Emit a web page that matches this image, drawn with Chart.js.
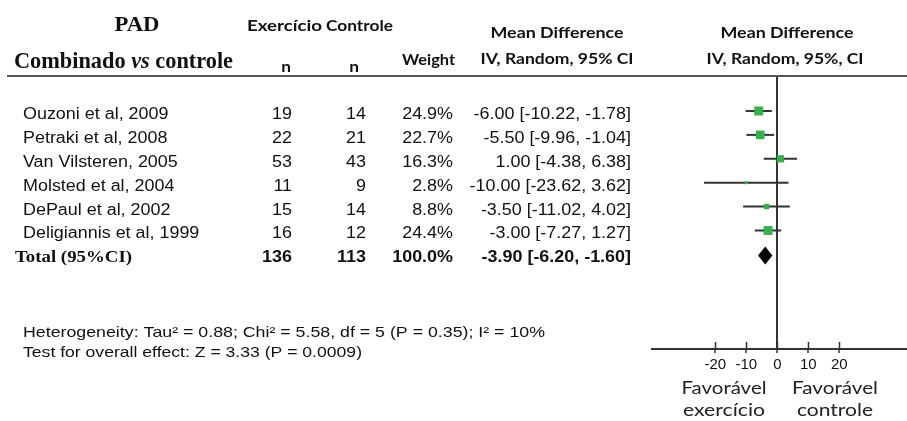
<!DOCTYPE html>
<html>
<head>
<meta charset="utf-8">
<script src="https://cdn.jsdelivr.net/npm/chart.js@4"></script>
<style>
  html, body { margin: 0; padding: 0; background: #fff; }
  canvas { display: block; }
</style>
</head>
<body>
<canvas id="forest" width="907" height="421"></canvas>
<script>
// Studies: PAD, combined training vs control
const studies = [
  'Ouzoni et al, 2009',
  'Petraki et al, 2008',
  'Van Vilsteren, 2005',
  'Molsted et al, 2004',
  'DePaul et al, 2002',
  'Deligiannis et al, 1999'
];
const nExercicio = [19, 22, 53, 11, 15, 16];
const nControle = [14, 21, 43, 9, 14, 12];
const weights = [24.9, 22.7, 16.3, 2.8, 8.8, 24.4];
const meanDiff = [-6.00, -5.50, 1.00, -10.00, -3.50, -3.00];
const ciLow = [-10.22, -9.96, -4.38, -23.62, -11.02, -7.27];
const ciHigh = [-1.78, -1.04, 6.38, 3.62, 4.02, 1.27];

// Pooled estimate
const totalLabel = 'Total (95%CI)';
const totalExercicio = 136;
const totalControle = 113;
const totalWeight = 100.0;
const totalMD = -3.90;
const totalLow = -6.20;
const totalHigh = -1.60;

const tickValues = [-20, -10, 0, 10, 20];
const heterogeneity = 'Heterogeneity: Tau\u00b2 = 0.88; Chi\u00b2 = 5.58, df = 5 (P = 0.35); I\u00b2 = 10%';
const overallEffect = 'Test for overall effect: Z = 3.33 (P = 0.0009)';

const totalRow = studies.length;
const fmt2 = v => v.toFixed(2);
const ciText = (m, lo, hi) => fmt2(m) + ' [' + fmt2(lo) + ', ' + fmt2(hi) + ']';

// horizontally scaled text helpers
function put(ctx, s, x, y, font, align, sx) {
  ctx.save();
  ctx.font = font;
  ctx.textAlign = align;
  ctx.textBaseline = 'alphabetic';
  ctx.translate(x, y);
  ctx.scale(sx || 1, 1);
  ctx.fillText(s, 0, 0);
  ctx.restore();
}
function fit(ctx, s, x, y, font, align, width) {
  ctx.save();
  ctx.font = font;
  const w = ctx.measureText(s).width;
  ctx.restore();
  put(ctx, s, x, y, font, align, width / w);
}

const ROW_FONT = '16px "Liberation Sans"';
const ROW_BOLD = 'bold 16px "Liberation Sans"';
const ROW_SX = 1.12;
const HEAD_FONT = 'bold 15px Lato';
const SERIF_BOLD = 'bold 24px "Liberation Serif"';

const forestTable = {
  id: 'forestTable',
  afterDraw(chart) {
    const ctx = chart.ctx;
    const xs = chart.scales.x;
    const ys = chart.scales.y;
    const area = chart.chartArea;

    ctx.save();
    ctx.fillStyle = '#111';

    // header rule
    ctx.strokeStyle = '#555';
    ctx.lineWidth = 2;
    ctx.beginPath();
    ctx.moveTo(7, area.top);
    ctx.lineTo(907, area.top);
    ctx.stroke();

    // upper half of axis ticks
    ctx.strokeStyle = '#333';
    ctx.lineWidth = 1.5;
    tickValues.forEach(v => {
      const px = Math.round(xs.getPixelForValue(v)) + 0.5;
      ctx.beginPath();
      ctx.moveTo(px, area.bottom - 7);
      ctx.lineTo(px, area.bottom);
      ctx.stroke();
    });

    // header text
    fit(ctx, 'PAD', 137, 31, 'bold 20px "Liberation Serif"', 'center', 45);
    {
      const parts = [
        ['Combinado ', SERIF_BOLD],
        ['vs', 'italic ' + SERIF_BOLD],
        [' controle', SERIF_BOLD]
      ];
      let total = 0;
      const widths = parts.map(p => { ctx.font = p[1]; const w = ctx.measureText(p[0]).width; total += w; return w; });
      const sx = 219 / total;
      let cx = 14;
      parts.forEach((p, i) => { put(ctx, p[0], cx, 68, p[1], 'left', sx); cx += widths[i] * sx; });
    }
    fit(ctx, 'Exercício', 247, 31, HEAD_FONT, 'left', 75);
    fit(ctx, 'Controle', 326, 31, HEAD_FONT, 'left', 67);
    put(ctx, 'n', 286, 72, HEAD_FONT, 'center', 1.15);
    put(ctx, 'n', 354, 72, HEAD_FONT, 'center', 1.15);
    fit(ctx, 'Weight', 455, 65, HEAD_FONT, 'right', 53);
    fit(ctx, 'Mean Difference', 557, 38, HEAD_FONT, 'center', 133);
    fit(ctx, 'IV, Random, 95% CI', 557, 64, HEAD_FONT, 'center', 153);
    fit(ctx, 'Mean Difference', 787, 38, HEAD_FONT, 'center', 133);
    fit(ctx, 'IV, Random, 95%, CI', 785, 64, HEAD_FONT, 'center', 157);

    // study rows
    studies.forEach((name, i) => {
      const py = ys.getPixelForValue(i) + 8;
      put(ctx, name, 23, py, ROW_FONT, 'left', ROW_SX);
      put(ctx, String(nExercicio[i]), 292, py, ROW_FONT, 'right', ROW_SX);
      put(ctx, String(nControle[i]), 366, py, ROW_FONT, 'right', ROW_SX);
      put(ctx, weights[i].toFixed(1) + '%', 453, py, ROW_FONT, 'right', ROW_SX);
      put(ctx, ciText(meanDiff[i], ciLow[i], ciHigh[i]), 631, py, ROW_FONT, 'right', ROW_SX);
    });

    // pooled row
    const ty = ys.getPixelForValue(totalRow) + 8;
    fit(ctx, totalLabel, 15, ty, 'bold 16px "Liberation Serif"', 'left', 117);
    put(ctx, String(totalExercicio), 292, ty, ROW_BOLD, 'right', ROW_SX);
    put(ctx, String(totalControle), 366, ty, ROW_BOLD, 'right', ROW_SX);
    put(ctx, totalWeight.toFixed(1) + '%', 453, ty, ROW_BOLD, 'right', ROW_SX);
    put(ctx, ciText(totalMD, totalLow, totalHigh), 631, ty, ROW_BOLD, 'right', ROW_SX);

    // pooled diamond
    const dy = ys.getPixelForValue(totalRow) + 1;
    ctx.fillStyle = '#000';
    ctx.beginPath();
    ctx.moveTo(xs.getPixelForValue(totalLow), dy);
    ctx.lineTo(xs.getPixelForValue(totalMD), dy - 9);
    ctx.lineTo(xs.getPixelForValue(totalHigh), dy);
    ctx.lineTo(xs.getPixelForValue(totalMD), dy + 9);
    ctx.closePath();
    ctx.fill();

    // footnotes
    ctx.fillStyle = '#111';
    fit(ctx, heterogeneity, 23, 337, '15px "Liberation Sans"', 'left', 522);
    fit(ctx, overallEffect, 23, 357, '15px "Liberation Sans"', 'left', 339);

    // direction labels
    ctx.fillStyle = '#222';
    fit(ctx, 'Favorável', 724, 394, '17px Lato', 'center', 85);
    fit(ctx, 'exercício', 724, 416, '17px Lato', 'center', 82);
    fit(ctx, 'Favorável', 835, 394, '17px Lato', 'center', 86);
    fit(ctx, 'controle', 835, 416, '17px Lato', 'center', 76);

    ctx.restore();
  }
};

const ciDatasets = studies.map((s, i) => ({
  label: s + ' CI',
  data: [{ x: ciLow[i], y: i }, { x: ciHigh[i], y: i }],
  showLine: true,
  borderColor: '#333',
  borderWidth: 2,
  pointRadius: 0,
  order: 2
}));

const squares = {
  label: 'Mean Difference',
  data: meanDiff.map((m, i) => ({ x: m, y: i })),
  pointStyle: 'rect',
  pointRadius: weights.map(w => 1.8 * Math.sqrt(w) / Math.SQRT2),
  backgroundColor: '#33b249',
  borderWidth: 0,
  order: 0
};

new Chart(document.getElementById('forest'), {
  type: 'scatter',
  data: { datasets: [squares, ...ciDatasets] },
  options: {
    responsive: false,
    animation: false,
    devicePixelRatio: 1,
    layout: { autoPadding: false, padding: { left: 652, right: 0, top: 76, bottom: 47 } },
    plugins: { legend: { display: false }, tooltip: { enabled: false } },
    scales: {
      x: {
        type: 'linear',
        min: -40.4,
        max: 41.8,
        afterBuildTicks: scale => { scale.ticks = tickValues.map(v => ({ value: v })); },
        afterFit: scale => { scale.height = 25; },
        ticks: {
          autoSkip: false,
          maxRotation: 0,
          padding: 3,
          color: '#111',
          font: { family: '"Liberation Sans"', size: 15 }
        },
        grid: {
          drawOnChartArea: true,
          color: c => (c.tick && c.tick.value === 0 ? '#333' : 'rgba(0,0,0,0)'),
          lineWidth: 2,
          tickLength: 4,
          tickColor: '#333',
          tickWidth: 1.5
        },
        border: { display: true, color: '#333', width: 2 }
      },
      y: {
        display: false,
        reverse: true,
        min: -1.464,
        max: 9.958
      }
    }
  },
  plugins: [forestTable]
});
</script>
</body>
</html>
